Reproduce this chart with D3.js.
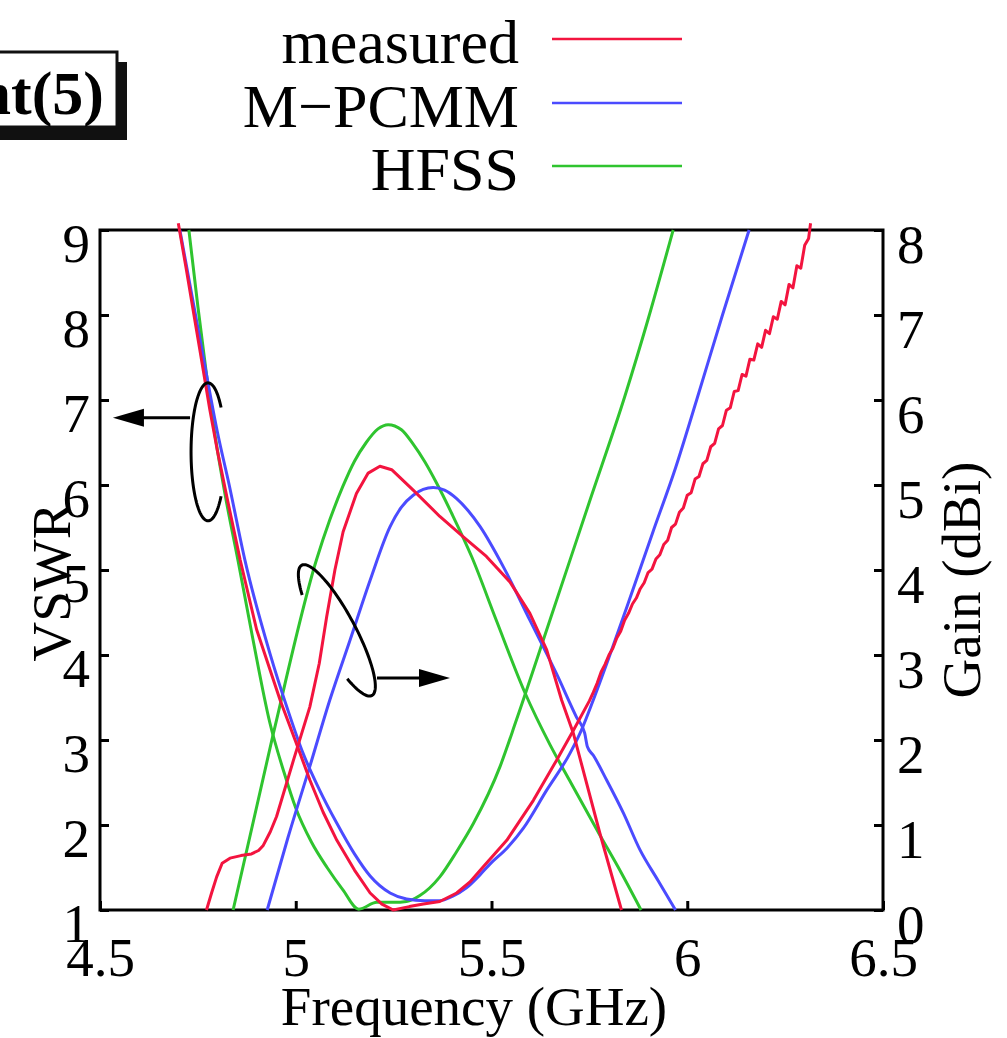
<!DOCTYPE html>
<html>
<head>
<meta charset="utf-8">
<script src="https://cdn.jsdelivr.net/npm/d3@7"></script>
<style>
  body { margin: 0; background: #fff; }
  svg { display: block; font-family: "Liberation Serif", "Times New Roman", serif; }
</style>
</head>
<body>
<svg id="chart"></svg>
<script>
// VSWR and gain vs frequency, measured / M-PCMM / HFSS

const width = 1007, height = 1038;
const margin = {left: 100, right: 124, top: 230, bottom: 128};

const freqTicks = [4.5, 5, 5.5, 6, 6.5];
const vswrTicks = [1, 2, 3, 4, 5, 6, 7, 8, 9];
const gainTicks = [0, 1, 2, 3, 4, 5, 6, 7, 8];

const seriesNames = ["measured", "M\u2212PCMM", "HFSS"];
const seriesColors = ["#f3143f", "#4b4bff", "#2fc42f"];

// [GHz, VSWR]
const measVswr = [
  [4.70, 9.08], [4.72, 8.55], [4.74, 8.0], [4.755, 7.59], [4.78, 6.9], [4.80, 6.4],
  [4.824, 5.86], [4.858, 5.12], [4.90, 4.3], [4.96, 3.47], [5.0, 2.98], [5.036, 2.53],
  [5.07, 2.15], [5.105, 1.82], [5.15, 1.47], [5.19, 1.2], [5.22, 1.07], [5.249, 1.0],
  [5.29, 1.04], [5.326, 1.07], [5.368, 1.1], [5.411, 1.2], [5.445, 1.33], [5.479, 1.51],
  [5.539, 1.82], [5.607, 2.29], [5.666, 2.76], [5.71, 3.12], [5.75, 3.46],
  [5.76, 3.56], [5.77, 3.67], [5.78, 3.80], [5.79, 3.89], [5.80, 4.00], [5.81, 4.08],
  [5.82, 4.20], [5.83, 4.28], [5.84, 4.41], [5.85, 4.49], [5.86, 4.60], [5.87, 4.67],
  [5.88, 4.78], [5.89, 4.85], [5.90, 4.97], [5.91, 5.01], [5.92, 5.13], [5.93, 5.18],
  [5.94, 5.30], [5.95, 5.35], [5.96, 5.50], [5.97, 5.54], [5.98, 5.68], [5.99, 5.73],
  [6.00, 5.88], [6.01, 5.91], [6.02, 6.07], [6.03, 6.10], [6.04, 6.25], [6.05, 6.29],
  [6.06, 6.45], [6.07, 6.49], [6.08, 6.66], [6.09, 6.70], [6.10, 6.88], [6.11, 6.91],
  [6.12, 7.10], [6.13, 7.11], [6.14, 7.30], [6.15, 7.28], [6.16, 7.48], [6.17, 7.47],
  [6.18, 7.66], [6.19, 7.62], [6.20, 7.82], [6.21, 7.78], [6.22, 7.98], [6.23, 7.95],
  [6.24, 8.16], [6.25, 8.12], [6.26, 8.36], [6.27, 8.32], [6.28, 8.58], [6.29, 8.55],
  [6.30, 8.82], [6.31, 8.90], [6.315, 9.08]
];
const pcmmVswr = [
  [4.704, 9.0], [4.74, 8.1], [4.77, 7.35], [4.80, 6.62], [4.83, 6.0], [4.87, 5.12],
  [4.934, 4.02], [4.98, 3.35], [5.019, 2.84], [5.06, 2.42], [5.105, 2.02], [5.15, 1.66],
  [5.19, 1.4], [5.241, 1.2], [5.283, 1.13], [5.33, 1.11], [5.368, 1.11], [5.40, 1.16],
  [5.436, 1.26], [5.47, 1.41], [5.496, 1.54], [5.54, 1.73], [5.581, 1.96], [5.641, 2.41],
  [5.7, 2.84], [5.73, 3.12], [5.76, 3.47], [5.80, 3.97], [5.85, 4.62], [5.911, 5.43],
  [5.97, 6.2], [6.024, 7.0], [6.09, 8.0], [6.158, 9.0]
];
const hfssVswr = [
  [4.727, 9.0], [4.75, 8.1], [4.772, 7.3], [4.795, 6.55], [4.819, 5.9], [4.853, 5.1],
  [4.89, 4.2], [4.934, 3.2], [4.97, 2.62], [5.0, 2.2], [5.04, 1.8], [5.08, 1.5],
  [5.12, 1.24], [5.161, 1.01], [5.207, 1.09], [5.25, 1.09], [5.283, 1.1], [5.317, 1.17],
  [5.368, 1.39], [5.41, 1.68], [5.454, 2.02], [5.522, 2.69], [5.564, 3.24], [5.65, 4.42],
  [5.75, 5.8], [5.841, 7.05], [5.90, 7.95], [5.964, 9.0]
];

// [GHz, dBi]
const measGain = [
  [4.772, 0], [4.785, 0.2], [4.798, 0.39], [4.812, 0.55], [4.832, 0.61], [4.86, 0.64],
  [4.887, 0.66], [4.905, 0.7], [4.917, 0.76], [4.935, 0.92], [4.951, 1.1], [4.994, 1.76],
  [5.036, 2.39], [5.06, 2.9], [5.079, 3.45], [5.1, 4.0], [5.121, 4.45], [5.155, 4.9],
  [5.185, 5.14], [5.215, 5.22], [5.245, 5.18], [5.3, 4.94], [5.368, 4.63], [5.428, 4.39],
  [5.487, 4.16], [5.547, 3.86], [5.598, 3.49], [5.641, 3.06], [5.679, 2.47], [5.709, 2.08],
  [5.777, 0.9], [5.832, 0]
];
const pcmmGain = [
  [4.927, 0], [4.98, 0.85], [5.036, 1.69], [5.087, 2.47], [5.139, 3.18], [5.19, 3.88],
  [5.241, 4.51], [5.27, 4.74], [5.3, 4.88], [5.351, 4.97], [5.38, 4.94], [5.411, 4.84],
  [5.44, 4.7], [5.471, 4.51], [5.53, 4.04], [5.598, 3.41], [5.666, 2.78], [5.717, 2.27],
  [5.738, 2.08], [5.745, 1.92], [5.76, 1.82], [5.794, 1.53], [5.837, 1.14], [5.879, 0.71],
  [5.925, 0.35], [5.97, 0]
];
const hfssGain = [
  [4.84, 0], [4.943, 2.08], [5.053, 4.12], [5.087, 4.59], [5.12, 4.98], [5.15, 5.28],
  [5.18, 5.5], [5.21, 5.66], [5.236, 5.71], [5.27, 5.65], [5.3, 5.48], [5.33, 5.27],
  [5.36, 5.02], [5.40, 4.65], [5.45, 4.15], [5.513, 3.4], [5.586, 2.55], [5.65, 1.94],
  [5.7, 1.52], [5.777, 0.88], [5.83, 0.45], [5.882, 0]
];

const svg = d3.select("#chart").attr("width", width).attr("height", height);
svg.append("rect").attr("width", width).attr("height", height).attr("fill", "#fff");

const x = d3.scaleLinear().domain([4.5, 6.5]).range([margin.left, width - margin.right]);
const yV = d3.scaleLinear().domain([1, 9]).range([height - margin.bottom, margin.top]);
const yG = d3.scaleLinear().domain([0, 8]).range([height - margin.bottom, margin.top]);

const x0 = x.range()[0], x1 = x.range()[1];
const yb = yV.range()[0], yt = yV.range()[1];

// axes, ticks inward
const tickFont = 55;
let gx = svg.append("g").attr("transform", `translate(0,${yb})`)
  .call(d3.axisBottom(x).tickValues(freqTicks).tickFormat(d3.format("")).tickSizeInner(-9).tickSizeOuter(0));
gx.selectAll("text").attr("y", 66).attr("dy", null);

let gl = svg.append("g").attr("transform", `translate(${x0},0)`)
  .call(d3.axisLeft(yV).tickValues(vswrTicks).tickFormat(d3.format("d")).tickSizeInner(-9).tickSizeOuter(0).tickPadding(10));
gl.selectAll("text").attr("dy", null).attr("y", 31);

let gr = svg.append("g").attr("transform", `translate(${x1},0)`)
  .call(d3.axisRight(yG).tickValues(gainTicks).tickFormat(d3.format("d")).tickSizeInner(-9).tickSizeOuter(0).tickPadding(14));
gr.selectAll("text").attr("dy", null).attr("y", 32);

[gx, gl, gr].forEach(g => {
  g.selectAll(".domain").remove();
  g.selectAll("line").attr("stroke", "#000").attr("stroke-width", 3);
  g.selectAll("text").attr("font-size", tickFont).attr("font-family", "Liberation Serif, serif").attr("fill", "#000");
});

svg.append("rect")
  .attr("x", x0).attr("y", yt).attr("width", x1 - x0).attr("height", yb - yt)
  .attr("fill", "none").attr("stroke", "#000").attr("stroke-width", 3);

// curves
const lineV = d3.line().x(d => x(d[0])).y(d => yV(d[1]));
const lineG = d3.line().x(d => x(d[0])).y(d => yG(d[1]));
const smooth = d3.curveMonotoneX;

const curves = [
  {data: hfssVswr, gen: lineV, c: 2, curve: smooth},
  {data: hfssGain, gen: lineG, c: 2, curve: smooth},
  {data: pcmmVswr, gen: lineV, c: 1, curve: smooth},
  {data: pcmmGain, gen: lineG, c: 1, curve: smooth},
  {data: measGain, gen: lineG, c: 0, curve: d3.curveLinear},
  {data: measVswr, gen: lineV, c: 0, curve: d3.curveLinear}
];
curves.forEach(s => {
  svg.append("path")
    .attr("d", s.gen.curve(s.curve)(s.data))
    .attr("fill", "none")
    .attr("stroke", seriesColors[s.c])
    .attr("stroke-width", 3)
    .attr("stroke-linejoin", "round");
});

// annotation loops and arrows
function loop(cx, cy, a, b, theta, t0, t1) {
  const th = theta * Math.PI / 180;
  const ux = Math.cos(th), uy = Math.sin(th), vx = -Math.sin(th), vy = Math.cos(th);
  const pts = d3.range(0, 101).map(i => {
    const t = (t0 + (t1 - t0) * i / 100) * Math.PI / 180;
    return [cx + a * Math.cos(t) * ux + b * Math.sin(t) * vx,
            cy + a * Math.cos(t) * uy + b * Math.sin(t) * vy];
  });
  svg.append("path").attr("d", d3.line()(pts))
    .attr("fill", "none").attr("stroke", "#000").attr("stroke-width", 3);
}
function arrow(xa, xb, yy) {
  const dir = Math.sign(xb - xa);
  svg.append("line").attr("x1", xa).attr("x2", xb - dir * 25).attr("y1", yy).attr("y2", yy)
    .attr("stroke", "#000").attr("stroke-width", 3);
  svg.append("path")
    .attr("d", `M${xb},${yy}L${xb - dir * 31},${yy - 9}L${xb - dir * 31},${yy + 9}Z`)
    .attr("fill", "#000");
}
loop(x(4.776), yV(6.39), 69, 17, 90, 230, -50);
arrow(x(4.73), x(4.533), yV(6.79));
loop(x(5.105), yG(3.29), 74, 18, 61.7, 130, 410);
arrow(x(5.2075), x(5.394), yG(2.73));

// axis titles
svg.append("text").attr("x", 474).attr("y", 1025).attr("text-anchor", "middle")
  .attr("font-size", 55).text("Frequency (GHz)");
svg.append("text").attr("transform", `translate(70,${582}) rotate(-90)`).attr("text-anchor", "middle")
  .attr("font-size", 55).text("VSWR");
svg.append("text").attr("transform", `translate(980,${580}) rotate(-90)`).attr("text-anchor", "middle")
  .attr("font-size", 55).text("Gain (dBi)");

// legend
const lg = svg.append("g");
seriesNames.forEach((name, i) => {
  const ly = [39, 103, 166][i];
  lg.append("text").attr("x", 519).attr("y", ly + 24).attr("text-anchor", "end")
    .attr("font-size", 62).text(name);
  lg.append("line").attr("x1", 552).attr("x2", 682).attr("y1", ly).attr("y2", ly)
    .attr("stroke", seriesColors[i]).attr("stroke-width", 2.5);
});

// cropped title box
const tb = svg.append("g");
tb.append("rect").attr("x", -10).attr("y", 62).attr("width", 137).attr("height", 78).attr("fill", "#111");
tb.append("rect").attr("x", -10).attr("y", 52).attr("width", 127).attr("height", 75)
  .attr("fill", "#fff").attr("stroke", "#111").attr("stroke-width", 3);
tb.append("text").attr("x", 104).attr("y", 114).attr("text-anchor", "end")
  .attr("font-size", 62).attr("font-weight", "bold").text("nt(5)");
</script>
</body>
</html>
